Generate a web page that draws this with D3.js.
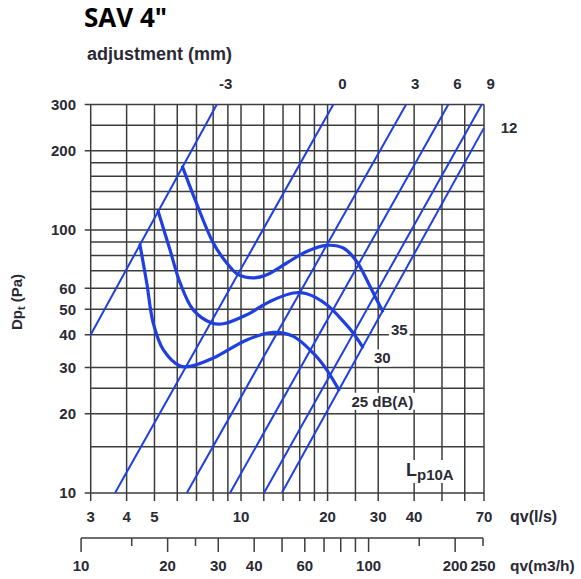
<!DOCTYPE html>
<html>
<head>
<meta charset="utf-8">
<script src="https://cdn.jsdelivr.net/npm/d3@7"></script>
<style>
  html, body { margin: 0; padding: 0; background: #fff; }
  svg { display: block; }
  .lbl { font-family: "Liberation Sans", Arial, Helvetica, sans-serif; font-weight: bold; fill: #2a2a35; }
</style>
</head>
<body>
<svg id="chart" width="581" height="579"></svg>
<script>
// ---------- data ----------
const qGrid = [3,4,5,6,7,8,9,10,12,14,16,18,20,25,30,40,50,60,70];
const pGrid = [10,15,20,25,30,40,50,60,70,80,90,100,120,140,160,180,200,250,300];
const pLabels = [10,20,30,40,50,60,100,200,300];
const qLabels = [3,4,5,10,20,30,40,70];
const m3hTicks = [10,15,20,25,30,40,50,60,70,80,90,100,150,200,250];
const m3hMinor = [15,25,150,250];
const m3hLabels = [10,20,30,40,60,100,200,250];

// adjustment (mm) system lines: start / end points (q l/s, dp Pa)
const adjNames  = ["-3","0","3","6","9","12"];
const adjStartQ = [3, 3.645, 6.475, 9.157, 12.02, 13.86];
const adjStartP = [40, 10, 10, 10, 10, 10];
const adjEndQ   = [8.234, 20.94, 37.5, 52.6, 68.74, 70];
const adjEndP   = [300, 300, 300, 300, 300, 244.5];

// sound level curves Lp10A (q l/s, dp Pa)
const curveNames = ["35", "30", "25 dB(A)"];
const curve35 = [[6.26,173.7],[6.92,130.4],[8.01,89.2],[8.92,74.9],[9.79,67.6],[11.04,65.7],[12.29,67.6],[14.42,74.9],[16.92,82.9],[19.87,87.4],[22.69,85.4],[25.26,75.9],[27.72,62.9],[29.25,55.9],[31.06,49.3]];
const curve30 = [[5.15,117.7],[5.66,84.1],[6.14,62.9],[6.82,49.7],[7.91,44.3],[8.68,44.0],[10.47,47.6],[12.61,53.5],[15.2,57.6],[16.92,57.2],[19.87,52.0],[22.69,44.9],[24.58,40.5],[26.46,35.96]];
const curve25 = [[4.45,87.9],[4.70,62.9],[4.95,44.3],[5.37,35.0],[6.14,30.4],[6.65,30.3],[8.01,32.6],[10.47,38.2],[12.95,40.8],[15.2,39.4],[17.84,34.0],[19.87,29.4],[21.88,24.7]];
const curves = [curve35, curve30, curve25];
// label anchor points (q, dp)
const curveLabelQ = [35.5, 31.0, 31.0];
const curveLabelP = [41.8, 32.6, 22.3];

// ---------- drawing ----------
const svg = d3.select("#chart");
const blue = "#1f3fe0";
const gridCol = "#3c3c3c";

const x = d3.scaleLog().domain([3, 70]).range([90.7, 484]);
const y = d3.scaleLog().domain([10, 300]).range([493, 104.5]);
const xm = d3.scaleLog().domain([3 * 3.6, 70 * 3.6]).range(x.range());

// grid
const g = svg.append("g");
g.selectAll("line.v").data(qGrid).join("line")
  .attr("x1", d => x(d)).attr("x2", d => x(d))
  .attr("y1", y(300)).attr("y2", y(10) + 8)
  .attr("stroke", gridCol).attr("stroke-width", 1.5);
g.selectAll("line.h").data(pGrid).join("line")
  .attr("x1", d => pLabels.includes(d) ? x(3) - 6 : x(3)).attr("x2", x(70))
  .attr("y1", d => y(d)).attr("y2", d => y(d))
  .attr("stroke", gridCol).attr("stroke-width", 1.5);

// y labels
svg.selectAll("text.yl").data(pLabels).join("text")
  .attr("class", "lbl").attr("x", 76).attr("y", d => y(d)).attr("dy", "0.36em")
  .attr("text-anchor", "end").attr("font-size", 15).text(d => d);

// x labels (l/s)
svg.selectAll("text.xl").data(qLabels).join("text")
  .attr("class", "lbl").attr("x", d => x(d)).attr("y", 522)
  .attr("text-anchor", "middle").attr("font-size", 15).text(d => d);
svg.append("text").attr("class", "lbl").attr("x", 510).attr("y", 522)
  .attr("font-size", 16).text("qv(l/s)");

// m3/h axis
svg.append("line").attr("x1", xm(10)).attr("x2", xm(250))
  .attr("y1", 538).attr("y2", 538).attr("stroke", gridCol).attr("stroke-width", 1.5);
svg.selectAll("line.mt").data(m3hTicks).join("line")
  .attr("x1", d => xm(d)).attr("x2", d => xm(d))
  .attr("y1", 538).attr("y2", d => m3hMinor.includes(d) ? 546 : 552)
  .attr("stroke", gridCol).attr("stroke-width", 1.5);
svg.selectAll("text.ml").data(m3hLabels).join("text")
  .attr("class", "lbl").attr("x", d => xm(d)).attr("y", 571)
  .attr("text-anchor", "middle").attr("font-size", 15).text(d => d);
svg.append("text").attr("class", "lbl").attr("x", 510).attr("y", 571)
  .attr("font-size", 15.5).text("qv(m3/h)");

// adjustment lines
const adj = adjNames.map((n, i) => ({ n, a: [adjStartQ[i], adjStartP[i]], b: [adjEndQ[i], adjEndP[i]] }));
svg.selectAll("line.adj").data(adj).join("line")
  .attr("x1", d => x(d.a[0])).attr("y1", d => y(d.a[1]))
  .attr("x2", d => x(d.b[0])).attr("y2", d => y(d.b[1]))
  .attr("stroke", blue).attr("stroke-width", 2);
svg.selectAll("text.adjl").data(adj).join("text")
  .attr("class", "lbl").attr("font-size", 15).attr("text-anchor", "middle")
  .attr("x", d => d.b[1] >= 300 ? x(d.b[0]) + 9 : x(d.b[0]) + 25)
  .attr("y", d => d.b[1] >= 300 ? 89 : y(d.b[1]))
  .attr("dy", d => d.b[1] >= 300 ? 0 : "0.36em")
  .text(d => d.n);

// sound curves
const lineGen = d3.line().x(d => x(d[0])).y(d => y(d[1])).curve(d3.curveCatmullRom.alpha(0.5));
svg.selectAll("path.c").data(curves).join("path")
  .attr("d", lineGen).attr("fill", "none").attr("stroke", blue).attr("stroke-width", 3.2)
  .attr("stroke-linecap", "round");

// curve labels with white backgrounds
curveNames.forEach((n, i) => {
  const t = svg.append("text").attr("class", "lbl").attr("font-size", 15)
    .attr("text-anchor", "middle")
    .attr("x", x(curveLabelQ[i])).attr("y", y(curveLabelP[i])).attr("dy", "0.36em").text(n);
  const bb = t.node().getBBox();
  svg.insert("rect", () => t.node())
    .attr("x", bb.x - 2).attr("y", bb.y).attr("width", bb.width + 4).attr("height", bb.height)
    .attr("fill", "#fff");
});

// Lp10A label
{
  const t = svg.append("text").attr("class", "lbl").attr("x", 406).attr("y", 476);
  t.append("tspan").attr("font-size", 18).text("L");
  t.append("tspan").attr("font-size", 15).attr("dy", 4).text("p10A");
  const bb = t.node().getBBox();
  svg.insert("rect", () => t.node())
    .attr("x", bb.x - 2).attr("y", bb.y).attr("width", bb.width + 4).attr("height", bb.height)
    .attr("fill", "#fff");
}

// y axis title
{
  const t = svg.append("text").attr("class", "lbl").attr("font-size", 15)
    .attr("text-anchor", "middle")
    .attr("transform", "translate(22,302) rotate(-90)");
  t.append("tspan").text("Dp");
  t.append("tspan").attr("font-size", 11).attr("dy", 3).text("t");
  t.append("tspan").attr("dy", -3).text(" (Pa)");
}

// titles
svg.append("text").attr("x", 84).attr("y", 27)
  .attr("font-family", "'Open Sans', 'Noto Sans', sans-serif").attr("font-weight", 700)
  .attr("font-size", 26).attr("fill", "#000").text('SAV 4"');
svg.append("text").attr("class", "lbl").attr("x", 87).attr("y", 60)
  .attr("font-size", 18).text("adjustment (mm)");
</script>
</body>
</html>
